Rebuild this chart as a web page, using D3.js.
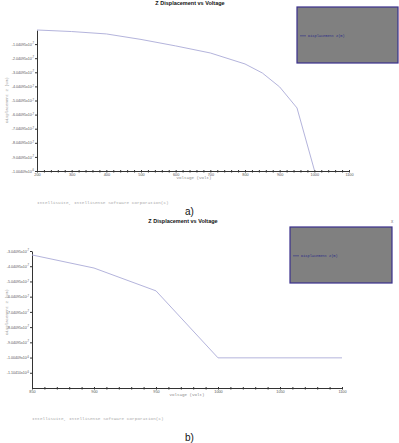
<!DOCTYPE html>
<html>
<head>
<meta charset="utf-8">
<script src="https://cdn.jsdelivr.net/npm/d3@7"></script>
<style>
  body { margin: 0; background: #fff; }
  svg { display: block; }
</style>
</head>
<body>
<div id="viz"></div>
<script>
// displacement in units of 1e-7 m
const voltsA = [200, 300, 400, 500, 600, 700, 800, 850, 900, 950, 1000];
const dispA = [-0.04, -0.15, -0.32, -0.71, -1.17, -1.67, -2.45, -3.09, -4.08, -5.57, -9.97];
const voltsB = [850, 900, 950, 1000, 1050, 1100];
const dispB = [-3.30, -4.16, -5.66, -10.06, -10.06, -10.06];

const xTicksA = [200, 300, 400, 500, 600, 700, 800, 900, 1000, 1100];
const xTicksB = [850, 900, 950, 1000, 1050, 1100];
const yTicksA = [-1.04095, -2.04095, -3.04095, -4.04095, -5.04095, -6.04095, -7.04095, -8.04095, -9.04095, -10.04095];
const yTicksB = [-3.04095, -4.04095, -5.04095, -6.04095, -7.04095, -8.04095, -9.04095, -10.04095, -11.04095];

const chartTitle = "Z Displacement vs Voltage";
const legendLabel = "Displacement z(m)";
const xTitle = "Voltage (Volt)";
const yTitle = "Displacement Z (um)";
const footer = "IntelliSuite, IntelliSense Software Corporation(c)";

const width = 399, height = 443;
const svg = d3.select("#viz").append("svg")
  .attr("width", width).attr("height", height)
  .attr("font-family", "Liberation Sans, Arial, sans-serif");

function tickLabel(v) {
  // -10.04095 -> -1.00409 x10^-6
  if (v <= -10) return ["-" + (Math.abs(v) / 10).toFixed(5) + "x10", "-6"];
  return [v.toFixed(5) + "x10", "-7"];
}

function drawChart(g, cfg) {
  const x = d3.scaleLinear().domain(cfg.xDomain).range(cfg.xRange);
  const y = d3.scaleLinear().domain(cfg.yDomain).range(cfg.yRange);

  // title
  g.append("text")
    .attr("x", cfg.titleX).attr("y", cfg.titleY)
    .attr("text-anchor", "middle")
    .attr("font-size", 5.5).attr("font-weight", "bold")
    .attr("fill", "#111")
    .text(chartTitle);

  // y axis
  const yAxis = g.append("g")
    .attr("transform", `translate(${cfg.xRange[0]},0)`)
    .call(d3.axisLeft(y).tickValues(cfg.yTicks).tickSize(2).tickSizeOuter(0).tickPadding(1));
  yAxis.select(".domain").attr("stroke", "#333");
  yAxis.selectAll(".tick line").attr("stroke", "#333");
  yAxis.selectAll(".tick text")
    .attr("font-size", 3.6).attr("fill", "#555")
    .text(null)
    .each(function(d) {
      const parts = tickLabel(d);
      const t = d3.select(this);
      t.append("tspan").text(parts[0]);
      t.append("tspan").attr("dy", -1.5).attr("font-size", 2.6).text(parts[1]);
    });

  // x axis with minor ticks
  const minor = d3.range(cfg.xDomain[0], cfg.xDomain[1] + 0.1, cfg.minorStep);
  const xAxis = g.append("g")
    .attr("transform", `translate(0,${cfg.yRange[1]})`)
    .call(d3.axisBottom(x).tickValues(minor).tickSize(1.5).tickSizeOuter(0).tickPadding(1)
      .tickFormat(d => cfg.xTicks.includes(d) ? d : ""));
  xAxis.select(".domain").attr("stroke", "#333");
  xAxis.selectAll(".tick line").attr("stroke", "#333").attr("y1", -1);
  xAxis.selectAll(".tick text").attr("font-size", 3.8).attr("fill", "#555");

  // axis titles
  g.append("text")
    .attr("x", cfg.xTitleX).attr("y", cfg.yRange[1] + 8)
    .attr("text-anchor", "middle")
    .attr("font-family", "Liberation Mono, monospace")
    .attr("font-size", 4.2).attr("fill", "#888")
    .text(xTitle);
  g.append("text")
    .attr("transform", `translate(8,${cfg.yTitleY}) rotate(-90)`)
    .attr("text-anchor", "middle")
    .attr("font-family", "Liberation Mono, monospace")
    .attr("font-size", 4).attr("fill", "#999")
    .text(yTitle);

  // series line
  const line = d3.line().x(d => x(d[0])).y(d => y(d[1]));
  g.append("path")
    .datum(d3.zip(cfg.volts, cfg.disp))
    .attr("fill", "none")
    .attr("stroke", "#b4b4dc")
    .attr("stroke-width", 1)
    .attr("d", line);

  // legend
  const lg = cfg.legend;
  g.append("rect")
    .attr("x", lg.x).attr("y", lg.y).attr("width", lg.w).attr("height", lg.h)
    .attr("fill", "#808080").attr("stroke", "#3a2f8c").attr("stroke-width", 1.2);
  g.append("line")
    .attr("x1", lg.x + 3).attr("x2", lg.x + 9)
    .attr("y1", lg.y + lg.ty - 1.2).attr("y2", lg.y + lg.ty - 1.2)
    .attr("stroke", "#2c2c88").attr("stroke-width", 0.6);
  g.append("text")
    .attr("x", lg.x + 11).attr("y", lg.y + lg.ty)
    .attr("font-family", "Liberation Mono, monospace")
    .attr("font-size", 3.6).attr("fill", "#2c2c88")
    .text(legendLabel);

  // footer + panel label
  g.append("text")
    .attr("x", cfg.xRange[0]).attr("y", cfg.footerY)
    .attr("font-family", "Liberation Mono, monospace")
    .attr("font-size", 4.4).attr("fill", "#aaa")
    .text(footer);
  g.append("text")
    .attr("x", cfg.panelX).attr("y", cfg.panelY)
    .attr("font-size", 10).attr("fill", "#111")
    .text(cfg.panel);
}

drawChart(svg.append("g"), {
  volts: voltsA, disp: dispA,
  xDomain: [200, 1100], xRange: [37, 349],
  yDomain: [-0.04095, -10.04095], yRange: [30, 171],
  xTicks: xTicksA, yTicks: yTicksA, minorStep: 20,
  titleX: 190, titleY: 4.5,
  xTitleX: 194, yTitleY: 100,
  legend: { x: 297, y: 7, w: 101, h: 56, ty: 30 },
  footerY: 204, panel: "a)", panelX: 185, panelY: 215
});

const gB = svg.append("g");
drawChart(gB, {
  volts: voltsB, disp: dispB,
  xDomain: [850, 1100], xRange: [32, 342],
  yDomain: [-3.04095, -12.04095], yRange: [251, 388],
  xTicks: xTicksB, yTicks: yTicksB, minorStep: 10,
  titleX: 183, titleY: 223,
  xTitleX: 187, yTitleY: 312,
  legend: { x: 290, y: 227, w: 102, h: 56, ty: 30 },
  footerY: 420, panel: "b)", panelX: 185, panelY: 441
});

gB.append("text")
  .attr("x", 391).attr("y", 223)
  .attr("font-size", 4.5).attr("fill", "#777")
  .text("x");
</script>
</body>
</html>
